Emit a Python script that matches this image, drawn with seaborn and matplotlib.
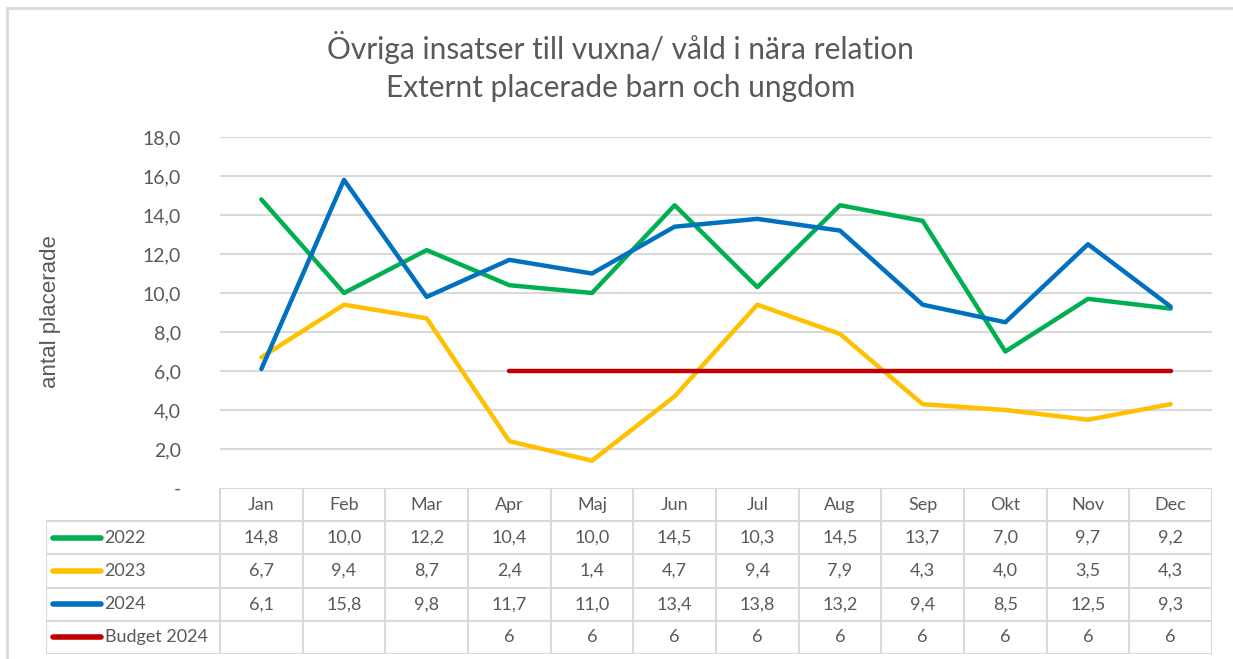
import numpy as np
import pandas as pd
import seaborn as sns
import matplotlib.pyplot as plt
from matplotlib.patches import Rectangle

# Data
months = ["Jan", "Feb", "Mar", "Apr", "Maj", "Jun", "Jul", "Aug", "Sep", "Okt", "Nov", "Dec"]
v2022 = [14.8, 10.0, 12.2, 10.4, 10.0, 14.5, 10.3, 14.5, 13.7, 7.0, 9.7, 9.2]
v2023 = [6.7, 9.4, 8.7, 2.4, 1.4, 4.7, 9.4, 7.9, 4.3, 4.0, 3.5, 4.3]
v2024 = [6.1, 15.8, 9.8, 11.7, 11.0, 13.4, 13.8, 13.2, 9.4, 8.5, 12.5, 9.3]
budget = [np.nan, np.nan, np.nan, 6, 6, 6, 6, 6, 6, 6, 6, 6]
series_names = ["2022", "2023", "2024", "Budget 2024"]
yticks = [0, 2, 4, 6, 8, 10, 12, 14, 16, 18]

colors = {"2022": "#00B050", "2023": "#FFC000", "2024": "#0070C0", "Budget 2024": "#C00000"}
text_col = "#595959"
grid_col = "#D9D9D9"

sns.set_theme(style="white")
plt.rcParams['font.family'] = ['Lato', 'DejaVu Sans']

rows = []
for name, vals in zip(series_names, [v2022, v2023, v2024, budget]):
    for m, v in zip(months, vals):
        rows.append({"month": m, "value": v, "serie": name})
df = pd.DataFrame(rows)

W, H = 1233, 659
fig = plt.figure(figsize=(W / 100, H / 100), dpi=100)

# outer border of the chart area
fig.patches.append(Rectangle((7 / W, -0.1), 1.2, 1 - 8 / H + 0.1, transform=fig.transFigure,
                             fill=False, edgecolor=grid_col, lw=2))

left, right, top, bottom = 220, 1212, 137, 488
ax = fig.add_axes([left / W, 1 - bottom / H, (right - left) / W, (bottom - top) / H])
sns.lineplot(data=df, x="month", y="value", hue="serie", palette=colors,
             linewidth=3.2, ax=ax, legend=False, sort=False)
ax.set_xlim(-0.5, 11.5)
ax.set_ylim(0, 18)
ax.set_yticks(yticks)
ax.set_yticklabels(["-" if t == 0 else f"{t:.1f}".replace(".", ",") for t in yticks],
                   color=text_col, fontsize=14)
ax.tick_params(axis="y", length=0, pad=28)
ax.set_xticks([])
ax.set_xlabel("")
ax.set_ylabel("")
for t in yticks[1:]:
    ax.axhline(t, color=grid_col, lw=1.5, zorder=0)
for s in ax.spines.values():
    s.set_visible(False)

fig.text(51 / W, 1 - 312 / H, "antal placerade", rotation=90, ha="center", va="center",
         color=text_col, fontsize=16, family=["Liberation Sans", "DejaVu Sans"])
fig.text(620 / W, 1 - 48 / H, "Övriga insatser till vuxna/ våld i nära relation",
         ha="center", va="center", color=text_col, fontsize=21.5)
fig.text(621 / W, 1 - 88 / H, "Externt placerade barn och ungdom",
         ha="center", va="center", color=text_col, fontsize=21.5)

# data table under the chart
tleft, tbottom = 46, 654
cell_w = (right - left) / 12
x0 = -0.5 - (left - tleft) / cell_w
tax = fig.add_axes([tleft / W, 1 - tbottom / H, (right - tleft) / W, (tbottom - bottom) / H])
tax.set_xlim(x0, 11.5)
tax.set_ylim(5, 0)
tax.axis("off")
lw_t = 1.5
# horizontal lines
tax.hlines(0, -0.5, 11.5, color=grid_col, lw=lw_t)
for r in range(1, 6):
    tax.hlines(r, x0, 11.5, color=grid_col, lw=lw_t)
# vertical lines
tax.vlines(x0, 1, 5, color=grid_col, lw=lw_t)
for i in range(13):
    tax.vlines(i - 0.5, 0, 5, color=grid_col, lw=lw_t)

for i, m in enumerate(months):
    tax.text(i, 0.5, m, ha="center", va="center", color=text_col, fontsize=13)
for r, (name, vals) in enumerate(zip(series_names, [v2022, v2023, v2024, budget]), start=1):
    tax.plot([x0 + 0.08, x0 + 0.66], [r + 0.5, r + 0.5], color=colors[name], lw=4,
             solid_capstyle="round")
    tax.text(x0 + 0.71, r + 0.5, name, ha="left", va="center", color=text_col, fontsize=13)
    for i, v in enumerate(vals):
        if np.isnan(v):
            continue
        lab = str(int(v)) if name == "Budget 2024" else f"{v:.1f}".replace(".", ",")
        tax.text(i, r + 0.5, lab, ha="center", va="center", color=text_col, fontsize=13)

fig.savefig("out.png", dpi=100)
